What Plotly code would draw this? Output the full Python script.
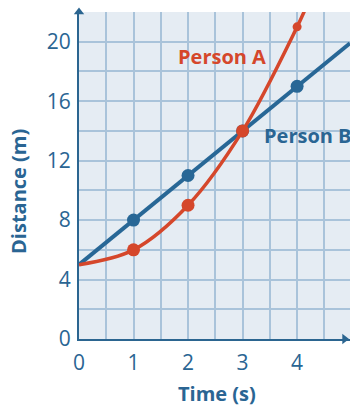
import plotly.graph_objects as go

# Data
time_a = [0, 1, 2, 3, 4, 4.15]
dist_a = [5, 6, 9, 14, 21, 22.2]
mark_a_t = [1, 2, 3]
mark_a_d = [6, 9, 14]
mark_a_small_t = [4]
mark_a_small_d = [21]

time_b = [0, 1, 2, 3, 4, 4.97]
dist_b = [5, 8, 11, 14, 17, 19.9]
mark_b_t = [1, 2, 3, 4]
mark_b_d = [8, 11, 14, 17]

x_ticks = [0, 1, 2, 3, 4]
y_ticks = [0, 4, 8, 12, 16, 20]
X_MAX = 4.97
Y_MAX = 22

RED = "#d5472b"
BLUE = "#286796"
AXIS = "#2b6590"
GRID = "#a9c3da"
BG = "#e5ecf3"
TEXT = "#2a6593"
FONT = "Open Sans"

fig = go.Figure()

# Person B
fig.add_trace(go.Scatter(x=time_b, y=dist_b, mode="lines",
                         line=dict(color=BLUE, width=4), hoverinfo="skip"))
fig.add_trace(go.Scatter(x=mark_b_t, y=mark_b_d, mode="markers",
                         marker=dict(color=BLUE, size=13), hoverinfo="skip"))
# Person A
fig.add_trace(go.Scatter(x=time_a, y=dist_a, mode="lines",
                         line=dict(color=RED, width=3.5, shape="spline", smoothing=1),
                         hoverinfo="skip"))
fig.add_trace(go.Scatter(x=mark_a_t, y=mark_a_d, mode="markers",
                         marker=dict(color=RED, size=13), hoverinfo="skip"))
fig.add_trace(go.Scatter(x=mark_a_small_t, y=mark_a_small_d, mode="markers",
                         marker=dict(color=RED, size=9), hoverinfo="skip"))

# Axis arrowheads
fig.add_trace(go.Scatter(x=[0], y=[Y_MAX], mode="markers", cliponaxis=False,
                         marker=dict(symbol="triangle-up", color=AXIS, size=9),
                         hoverinfo="skip"))
fig.add_trace(go.Scatter(x=[X_MAX - 0.1], y=[0], mode="markers", cliponaxis=False,
                         marker=dict(symbol="triangle-right", color=AXIS, size=9),
                         hoverinfo="skip"))

fig.add_annotation(x=2.62, y=19.0, text="Person A", showarrow=False,
                   font=dict(family=FONT, size=20, color=RED, weight="bold"),
                   xanchor="center", yanchor="middle")
fig.add_annotation(x=3.36, y=13.7, text="Person B", showarrow=False,
                   font=dict(family=FONT, size=20, color=TEXT, weight="bold"),
                   xanchor="left", yanchor="middle")

fig.add_annotation(x=2.53, xref="x", y=-0.168, yref="paper", text="Time (s)",
                   showarrow=False, font=dict(family=FONT, size=20, color=TEXT, weight="bold"),
                   xanchor="center", yanchor="middle")
fig.add_annotation(x=-0.221, xref="paper", y=0.45, yref="paper", text="Distance (m)",
                   textangle=-90, showarrow=False,
                   font=dict(family=FONT, size=20, color=TEXT, weight="bold"),
                   xanchor="center", yanchor="middle")

fig.update_layout(
    width=350, height=406,
    margin=dict(l=79, r=0, t=12, b=67),
    paper_bgcolor="white", plot_bgcolor=BG,
    showlegend=False,
    font=dict(family=FONT, color=TEXT),
)
fig.update_xaxes(range=[0, X_MAX], tickvals=x_ticks, showgrid=True, gridcolor=GRID,
                 gridwidth=2, zeroline=False, showline=True, linecolor=AXIS, linewidth=2,
                 ticks="", tickfont=dict(family=FONT, size=21, color=TEXT),
                 ticklabelstandoff=4,
                 minor=dict(dtick=0.5, tick0=0, showgrid=True, gridcolor=GRID, gridwidth=2))
fig.update_yaxes(range=[0, Y_MAX], tickvals=y_ticks, showgrid=True, gridcolor=GRID,
                 gridwidth=2, zeroline=False, showline=True, linecolor=AXIS, linewidth=2,
                 ticks="", tickfont=dict(family=FONT, size=21, color=TEXT),
                 ticklabelstandoff=2,
                 minor=dict(dtick=2, tick0=0, showgrid=True, gridcolor=GRID, gridwidth=2))

fig.write_html("out.html", config={"displayModeBar": False},
               post_script="document.body.style.margin='0';document.body.style.overflow='hidden';")
